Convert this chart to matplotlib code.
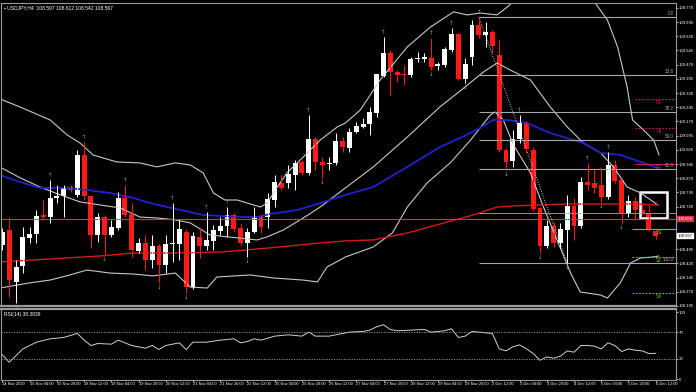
import matplotlib.pyplot as plt
from matplotlib import font_manager
from matplotlib.transforms import blended_transform_factory

# USDJPY H4 candles, 14 Nov 2019 12:00 .. 6 Dec 2019 12:00
opens = [108.518, 108.597, 108.322, 108.406, 108.555, 108.576, 108.676, 108.665, 108.766, 108.776,
         108.824, 108.782, 108.993, 108.776, 108.570, 108.665, 108.570, 108.607, 108.766, 108.681,
         108.486, 108.528, 108.438, 108.512, 108.412, 108.523, 108.523, 108.586, 108.295, 108.560,
         108.512, 108.539, 108.592, 108.618, 108.676, 108.607, 108.528, 108.586, 108.665, 108.665,
         108.755, 108.845, 108.845, 108.887, 108.956, 108.898, 109.078, 108.956, 108.946, 108.951,
         109.067, 109.030, 109.115, 109.141, 109.157, 109.215, 109.411, 109.532, 109.432, 109.421,
         109.416, 109.500, 109.500, 109.506, 109.463, 109.469, 109.548, 109.633, 109.395, 109.511,
         109.680, 109.627, 109.643, 109.522, 109.019, 108.961, 109.078, 109.162, 109.019, 108.713,
         108.512, 108.618, 108.528, 108.597, 108.724, 108.618, 108.850, 108.845, 108.835, 108.771,
         108.940, 108.861, 108.687, 108.750, 108.702, 108.687, 108.592]
highs = [108.607, 108.665, 108.438, 108.613, 108.613, 108.702, 108.755, 108.861, 108.835, 108.835,
         108.835, 109.019, 109.062, 108.776, 108.687, 108.676, 108.650, 108.798, 108.835, 108.739,
         108.555, 108.570, 108.570, 108.523, 108.570, 108.739, 108.650, 108.602, 108.586, 108.613,
         108.692, 108.623, 108.665, 108.718, 108.687, 108.634, 108.607, 108.718, 108.676, 108.792,
         108.887, 108.887, 108.940, 108.967, 108.967, 109.204, 109.088, 108.982, 108.982, 109.109,
         109.088, 109.136, 109.168, 109.189, 109.247, 109.421, 109.617, 109.548, 109.442, 109.469,
         109.511, 109.537, 109.532, 109.611, 109.485, 109.564, 109.664, 109.638, 109.506, 109.707,
         109.722, 109.696, 109.654, 109.601, 109.030, 109.125, 109.204, 109.173, 109.035, 108.718,
         108.650, 108.639, 108.634, 108.782, 108.766, 108.877, 108.951, 108.920, 108.930, 109.009,
         108.967, 108.861, 108.782, 108.771, 108.739, 108.729, 108.597]
lows = [108.491, 108.243, 108.211, 108.369, 108.528, 108.528, 108.650, 108.634, 108.739, 108.665,
        108.798, 108.771, 108.755, 108.502, 108.533, 108.465, 108.560, 108.597, 108.665, 108.454,
        108.475, 108.385, 108.396, 108.317, 108.369, 108.428, 108.438, 108.264, 108.285, 108.449,
        108.491, 108.491, 108.570, 108.560, 108.586, 108.518, 108.454, 108.581, 108.581, 108.607,
        108.718, 108.808, 108.819, 108.808, 108.887, 108.887, 108.914, 108.872, 108.914, 108.940,
        109.009, 109.009, 109.109, 109.136, 109.099, 109.194, 109.405, 109.310, 109.379, 109.363,
        109.405, 109.485, 109.485, 109.442, 109.442, 109.458, 109.537, 109.389, 109.374, 109.469,
        109.611, 109.564, 109.532, 109.009, 108.914, 108.930, 109.056, 109.004, 108.697, 108.475,
        108.502, 108.507, 108.502, 108.422, 108.544, 108.607, 108.808, 108.790, 108.745, 108.761,
        108.845, 108.634, 108.665, 108.650, 108.676, 108.592, 108.549]
closes = [108.586, 108.332, 108.401, 108.560, 108.576, 108.671, 108.665, 108.766, 108.776, 108.824,
          108.808, 108.993, 108.776, 108.570, 108.665, 108.570, 108.613, 108.766, 108.676, 108.491,
          108.528, 108.438, 108.512, 108.412, 108.523, 108.528, 108.602, 108.295, 108.565, 108.512,
          108.544, 108.597, 108.618, 108.676, 108.602, 108.528, 108.586, 108.665, 108.613, 108.761,
          108.850, 108.819, 108.893, 108.951, 108.898, 109.078, 108.956, 108.940, 108.951, 109.067,
          109.035, 109.115, 109.146, 109.157, 109.220, 109.421, 109.532, 109.432, 109.416, 109.416,
          109.500, 109.506, 109.511, 109.458, 109.474, 109.553, 109.633, 109.395, 109.474, 109.680,
          109.627, 109.643, 109.569, 109.019, 108.956, 109.078, 109.162, 109.025, 108.708, 108.512,
          108.618, 108.528, 108.602, 108.724, 108.618, 108.850, 108.835, 108.820, 108.771, 108.940,
          108.856, 108.687, 108.750, 108.702, 108.687, 108.597, 108.567]

# indicator lines, sampled at bar positions
bb_up_x = [-0.4, 3, 7, 9.5, 11.4, 13.3, 16.8, 20.2, 22.7, 25.4, 27.6, 29.5, 31, 32.7, 34.5, 37.9, 38.9,
           40.4, 41.8, 44.2, 46.7, 49.2, 50.4, 52.6, 55.5, 59.5, 62.9, 66.3, 68.3, 70.2, 72.7, 74.2,
           75.4, 78, 82, 86.8, 88.9, 90.4, 91.8, 92.6, 94.2, 95.7, 96.5]
bb_up_y = [109.290, 109.240, 109.178, 109.099, 109.056, 108.993, 108.956, 108.951, 108.930, 108.951,
           108.940, 108.898, 108.792, 108.755, 108.755, 108.718, 108.739, 108.824, 108.898, 108.982,
           109.072, 109.141, 109.162, 109.231, 109.389, 109.564, 109.669, 109.749, 109.733, 109.743,
           109.733, 109.775, 109.812, 109.900, 109.920, 109.812, 109.706, 109.564, 109.352, 109.178,
           109.125, 109.072, 108.993]
bb_mid_x = [-0.4, 2.6, 5.5, 8.5, 11.4, 14.3, 17.3, 20.2, 22.7, 25.4, 27.6, 30.5, 34.5, 37.4, 38.9,
            41.3, 44.2, 46.7, 50.4, 54.5, 59.5, 64.3, 67.8, 70.7, 72.7, 74.6, 77.6, 80.5, 83, 85.4,
            87.9, 89.8, 91.8, 93.8, 96.3]
bb_mid_y = [108.930, 108.872, 108.824, 108.782, 108.745, 108.729, 108.713, 108.665, 108.660, 108.650,
            108.634, 108.570, 108.555, 108.544, 108.560, 108.597, 108.660, 108.718, 108.819, 108.930,
            109.088, 109.247, 109.347, 109.432, 109.479, 109.442, 109.389, 109.247, 109.141, 109.056,
            109.004, 108.930, 108.824, 108.792, 108.729]
bb_lo_x = [-0.4, 4, 7, 9.9, 12.4, 15.8, 19.2, 22.1, 25.4, 27.6, 30.1, 31.5, 36.4, 39.8, 44.2, 46.3,
           47.7, 50.4, 54.5, 57.3, 59.5, 62.4, 65.8, 68.8, 71.7, 72.4, 73.6, 75.1, 77.6, 79.5, 81.5,
           83.5, 84.9, 87.9, 88.9, 90.8, 92.3, 93.8, 95.7, 96.4]
bb_lo_y = [108.290, 108.317, 108.332, 108.359, 108.385, 108.369, 108.364, 108.354, 108.369, 108.295,
           108.290, 108.348, 108.359, 108.343, 108.332, 108.322, 108.401, 108.454, 108.507, 108.581,
           108.718, 108.845, 108.951, 109.072, 109.204, 109.220, 109.178, 109.046, 108.898, 108.718,
           108.544, 108.369, 108.269, 108.253, 108.237, 108.317, 108.422, 108.449, 108.454, 108.459]
ma_blue_x = [-0.4, 2.6, 5.5, 9.5, 12.4, 15.8, 19.2, 21.7, 25.4, 29.5, 34.5, 37.4, 39.3, 43.3, 46.7,
             50.4, 54.5, 59.5, 64.3, 67.3, 70.2, 72.1, 74.2, 77.1, 80.5, 85.4, 87.9, 90.8, 93.8, 96.3]
ma_blue_y = [108.887, 108.850, 108.819, 108.819, 108.808, 108.792, 108.766, 108.739, 108.708, 108.676,
             108.665, 108.665, 108.681, 108.702, 108.739, 108.782, 108.824, 108.930, 109.035, 109.083,
             109.136, 109.178, 109.178, 109.162, 109.109, 109.056, 109.004, 108.993, 108.956, 108.924]
ma_red_x = [-0.4, 4.5, 9.5, 14.3, 19.2, 25.4, 32, 39.3, 46.7, 50.4, 54.5, 59.5, 64.3, 69.2, 72.7,
            75.4, 83, 92.7, 96.3]
ma_red_y = [108.428, 108.438, 108.449, 108.459, 108.475, 108.475, 108.480, 108.502, 108.528, 108.539,
            108.544, 108.581, 108.628, 108.676, 108.718, 108.724, 108.734, 108.734, 108.729]

rsi_x = [0, 1, 3, 5, 7, 9, 11, 12, 13, 14, 16, 17, 19, 21, 22, 23, 24, 26, 27, 28, 30, 32, 34, 35,
         36, 37, 38, 40, 42, 44, 45, 46, 48, 49, 51, 53, 54, 55, 56, 57, 58, 60, 62, 63, 65, 66, 67,
         68, 69, 71, 72, 73, 74, 75, 76, 77, 78, 79, 80, 81, 82, 83, 84, 85, 86, 87, 88, 89, 90, 91,
         92, 93, 94, 95, 96]
rsi_y = [36, 25, 45, 55, 60, 62, 68, 58, 50, 53, 52, 58, 50, 46, 50, 44, 50, 54, 44, 55, 55, 58, 60,
         54, 56, 60, 58, 64, 66, 64, 70, 64, 64, 66, 70, 71, 73, 78, 81, 74, 72, 73, 74, 70, 72, 75,
         62, 64, 71, 69, 68, 45, 42, 48, 51, 45, 38, 28, 33, 31, 34, 42, 40, 50, 50, 49, 45, 54, 50,
         41, 45, 43, 42, 38, 38.4]

fib_levels = [109.722, 109.415, 109.220, 109.072, 108.919, 108.422]
fib_names = ['0.0', '23.6', '38.2', '50.0', '61.8', '100.0']
extra_level = 108.687
level_line = 108.655
pivot_red = {'R2': 109.289, 'R1': 109.136, 'PP': 108.946}
pivot_green = {'S1': 108.602, 'S2': 108.454, 'S3': 108.264}
up_fractals = [7, 12, 18, 25, 30, 33, 45, 56, 63, 66, 70, 76, 86, 89]
down_fractals = [2, 15, 23, 27, 36, 47, 63, 68, 74, 79, 83, 88, 91]

price_ticks = [108.195, 108.270, 108.345, 108.420, 108.495, 108.720, 108.795, 108.870,
               108.945, 109.020, 109.095, 109.170, 109.245, 109.320, 109.395, 109.470, 109.545,
               109.620, 109.695, 109.770]
time_labels = ['14 Nov 2019', '15 Nov 04:00', '15 Nov 20:00', '18 Nov 12:00', '19 Nov 04:00',
               '19 Nov 20:00', '20 Nov 12:00', '21 Nov 04:00', '21 Nov 20:00', '22 Nov 12:00',
               '25 Nov 04:00', '25 Nov 20:00', '26 Nov 12:00', '27 Nov 04:00', '27 Nov 20:00',
               '28 Nov 12:00', '29 Nov 04:00', '29 Nov 20:00', '2 Dec 12:00', '3 Dec 04:00',
               '3 Dec 20:00', '4 Dec 12:00', '5 Dec 04:00', '5 Dec 20:00', '6 Dec 12:00']
current_price = 108.567

installed = {f.name for f in font_manager.fontManager.ttflist}
small_font = 'Liberation Sans Narrow' if 'Liberation Sans Narrow' in installed else 'Liberation Sans'
tsize = 3.5 if small_font.endswith('Narrow') else 2.9
plt.rcParams['font.family'] = ['Liberation Sans', 'DejaVu Sans']

fig = plt.figure(figsize=(6.96, 3.92), dpi=100, facecolor='black')
ax = fig.add_axes([0.0014, 0.2194, 0.970, 0.773], facecolor='black')
rax = fig.add_axes([0.0014, 0.0306, 0.970, 0.1811], facecolor='black', sharex=ax)
xmax = 99.0
ax.set_xlim(-0.22, xmax)
ax.set_ylim(108.195, 109.796)
rax.set_ylim(-1.5, 104.5)

for a in (ax, rax):
    for s in a.spines.values():
        s.set_color('#9a9a9a')
        s.set_linewidth(0.8)
    a.yaxis.tick_right()
    a.tick_params(colors='white', labelsize=3.1, length=1.2, width=0.5, pad=0.5)
ax.spines['bottom'].set_linewidth(1.6)
rax.spines['top'].set_linewidth(1.6)

# indicators behind candles
gray = '#c8c8c8'
ax.plot(bb_up_x, bb_up_y, color=gray, lw=0.8)
ax.plot(bb_mid_x, bb_mid_y, color=gray, lw=0.8)
ax.plot(bb_lo_x, bb_lo_y, color=gray, lw=0.8)
ax.plot(ma_red_x, ma_red_y, color='#d81818', lw=1.0)
ax.plot(ma_blue_x, ma_blue_y, color='#2222cc', lw=1.3)
ax.axhline(level_line, color='#d8304a', lw=0.8)

# fibonacci
for lv, nm in zip(fib_levels, fib_names):
    ax.hlines(lv, 70, xmax, color='#a8a8a8', lw=0.8)
    ax.text(xmax - 0.3, lv + 0.006, nm, color='#a8a8a8', fontsize=3.3, ha='right', va='bottom')
ax.hlines(extra_level, 70, xmax, color='#a8a8a8', lw=0.6)
ax.plot([70, 83], [highs[70], lows[83]], color='#c8c8c8', lw=0.7, ls=(0, (1, 1.5)))

# pivots
for nm, lv in pivot_red.items():
    ls = '-' if nm == 'PP' else (0, (1.5, 1.5))
    ax.hlines(lv, 93, xmax, color='#c8205a', lw=0.8, ls=ls)
    ax.text(96.5, lv - 0.006, nm, color='#c8205a', fontsize=3.3, ha='center', va='top')
for nm, lv in pivot_green.items():
    ls = '-' if nm == 'S1' else (0, (1.5, 1.5))
    ax.hlines(lv, 92.5, xmax, color='#66cc22', lw=0.8, ls=ls)
    ax.text(96.5, lv - 0.006, nm, color='#66cc22', fontsize=3.3, ha='center', va='top')

# candles
for i in range(len(opens)):
    o, h, l, c = opens[i], highs[i], lows[i], closes[i]
    col = 'white' if c >= o else '#ff1a1a'
    ax.vlines(i, l, h, color=col, lw=0.7)
    ax.bar(i, max(abs(c - o), 0.004), bottom=min(o, c), width=0.72, color=col, lw=0)

for i in up_fractals:
    ax.text(i, highs[i] + 0.012, '\u2191', color='#9a9a9a', fontsize=4, ha='center', va='bottom',
            family='DejaVu Sans')
for i in down_fractals:
    ax.text(i, lows[i] - 0.012, '\u2193', color='#9a9a9a', fontsize=4, ha='center', va='top',
            family='DejaVu Sans')

# highlight box
ax.add_patch(plt.Rectangle((93.75, 108.660), 3.9, 0.137, fill=False, ec='white', lw=1.8))

ax.set_yticks(price_ticks)
ax.set_yticklabels([f'{p:.3f}' for p in price_ticks])
trans = blended_transform_factory(ax.transAxes, ax.transData)
ax.text(1.002, current_price, f'{current_price:.3f}', transform=trans, fontsize=3.1, color='black',
        va='center', ha='left', bbox=dict(boxstyle='square,pad=0.12', fc='white', ec='white'))
ax.text(1.002, level_line, f'{level_line:.3f}', transform=trans, fontsize=3.1, color='white',
        va='center', ha='left', bbox=dict(boxstyle='square,pad=0.12', fc='#d8304a', ec='#d8304a'))
ax.text(0.004, 0.992, '\u25aa USDJPY,H4  108.597 108.612 108.542 108.567', transform=ax.transAxes,
        color='white', fontsize=3.6, va='top', ha='left')

# RSI
rax.plot(rsi_x, rsi_y, color='#d0d0d0', lw=0.7)
for lv in (70, 30):
    rax.axhline(lv, color='#a0a0a0', lw=0.6, ls=(0, (1.5, 1.5)))
rax.set_yticks([0, 30, 70, 100])
rax.set_yticklabels(['0', '30', '70', '100'])
rax.text(0.004, 0.96, 'RSI(14) 38.3839', transform=rax.transAxes, color='white', fontsize=3.6,
         va='top', ha='left')

rax.set_xticks(list(range(0, 97, 4)))
rax.set_xticklabels(time_labels, ha='left', fontsize=tsize, family=small_font)
plt.setp(ax.get_xticklabels(), visible=False)
ax.tick_params(axis='x', length=0)

fig.savefig('out.png', dpi=100, facecolor='black')
